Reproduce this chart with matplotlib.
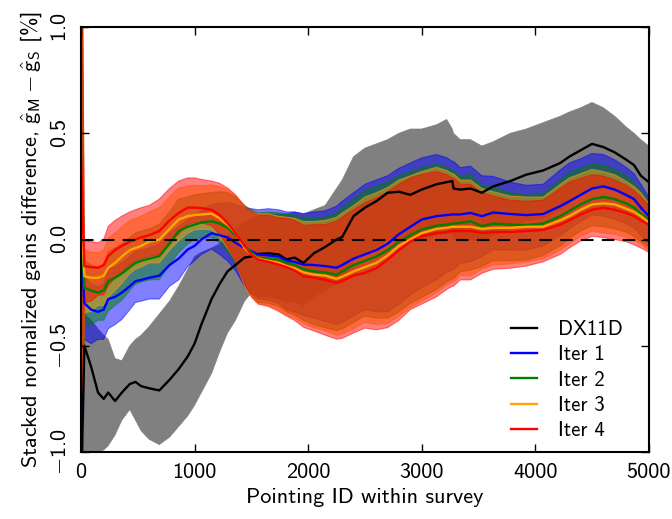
import matplotlib
matplotlib.use("Agg")
import matplotlib.pyplot as plt
import numpy as np

plt.rcParams["font.family"] = ["cmss10", "DejaVu Sans"]
plt.rcParams["mathtext.fontset"] = "custom"
plt.rcParams["mathtext.rm"] = "cmss10"
plt.rcParams["mathtext.sf"] = "cmss10"
plt.rcParams["mathtext.it"] = "cmss10"
plt.rcParams["axes.unicode_minus"] = False

# pointing IDs where the curves were sampled
pid = [0, 30, 90, 150, 200, 240, 300, 360, 430, 480, 530, 600, 690, 780, 860, 940,
       1000, 1060, 1150, 1220, 1290, 1360, 1440, 1500, 1560, 1650, 1740, 1810, 1880,
       1960, 2050, 2150, 2250, 2300, 2400, 2500, 2600, 2700, 2800, 2900, 3000, 3130,
       3220, 3270, 3280, 3340, 3430, 3530, 3630, 3780, 3920, 4070, 4220, 4300, 4400,
       4500, 4600, 4700, 4800, 4870, 4930, 5000]

# DX11D mean and its band
dx = [-1.2, -0.50, -0.60, -0.72, -0.75, -0.72, -0.76, -0.72, -0.68, -0.67, -0.69, -0.70,
      -0.71, -0.66, -0.61, -0.55, -0.49, -0.40, -0.28, -0.21, -0.15, -0.12, -0.085, -0.08,
      -0.068, -0.065, -0.07, -0.094, -0.085, -0.11, -0.065, -0.035, 0.0, 0.012, 0.11, 0.15,
      0.18, 0.22, 0.225, 0.21, 0.235, 0.26, 0.27, 0.275, 0.24, 0.235, 0.24, 0.22, 0.25,
      0.275, 0.305, 0.325, 0.36, 0.39, 0.42, 0.45, 0.435, 0.41, 0.376, 0.35, 0.30, 0.27]
dx_hi = [0.8, -0.35, -0.38, -0.42, -0.45, -0.47, -0.56, -0.57, -0.50, -0.47, -0.45, -0.41,
         -0.35, -0.29, -0.22, -0.14, -0.08, -0.06, -0.04, -0.02, 0.02, 0.05, 0.08, 0.10,
         0.11, 0.12, 0.12, 0.12, 0.13, 0.12, 0.14, 0.16, 0.24, 0.28, 0.39, 0.43, 0.45, 0.47,
         0.50, 0.52, 0.52, 0.54, 0.565, 0.52, 0.50, 0.47, 0.47, 0.44, 0.46, 0.50, 0.52,
         0.55, 0.58, 0.60, 0.62, 0.645, 0.62, 0.58, 0.53, 0.50, 0.47, 0.44]
dx_lo = [-2.0, -1.0, -1.02, -1.0, -0.99, -0.97, -0.92, -0.85, -0.80, -0.85, -0.90, -0.94,
         -0.965, -0.93, -0.88, -0.83, -0.78, -0.72, -0.63, -0.53, -0.44, -0.38, -0.29, -0.25,
         -0.27, -0.27, -0.28, -0.30, -0.29, -0.31, -0.27, -0.24, -0.21, -0.20, -0.10, -0.07,
         -0.04, 0.0, 0.0, -0.01, 0.0, 0.02, 0.03, 0.03, 0.0, 0.0, 0.0, -0.01, 0.02, 0.05,
         0.09, 0.10, 0.14, 0.17, 0.22, 0.25, 0.25, 0.23, 0.20, 0.18, 0.14, 0.10]

# iteration means
it1 = [0.0, -0.30, -0.33, -0.34, -0.33, -0.28, -0.27, -0.25, -0.22, -0.196, -0.19, -0.18,
       -0.17, -0.12, -0.09, -0.047, -0.03, 0.0, 0.03, 0.02, 0.01, -0.015, -0.04, -0.055,
       -0.07, -0.075, -0.08, -0.10, -0.105, -0.118, -0.12, -0.125, -0.133, -0.12, -0.09,
       -0.07, -0.05, -0.02, 0.025, 0.06, 0.094, 0.11, 0.115, 0.118, 0.118, 0.118, 0.125,
       0.11, 0.127, 0.12, 0.115, 0.12, 0.157, 0.18, 0.21, 0.24, 0.25, 0.235, 0.21, 0.19,
       0.15, 0.11]
it2 = [0.07, -0.227, -0.24, -0.25, -0.24, -0.196, -0.18, -0.16, -0.13, -0.11, -0.10, -0.09,
       -0.078, -0.02, 0.04, 0.06, 0.07, 0.08, 0.086, 0.075, 0.056, 0.02, -0.03, -0.06,
       -0.085, -0.09, -0.094, -0.11, -0.12, -0.14, -0.15, -0.155, -0.165, -0.15, -0.12,
       -0.10, -0.08, -0.05, -0.01, 0.02, 0.047, 0.065, 0.07, 0.075, 0.075, 0.078, 0.086,
       0.063, 0.075, 0.07, 0.068, 0.075, 0.11, 0.135, 0.165, 0.19, 0.20, 0.19, 0.17, 0.15,
       0.12, 0.095]
it3 = [0.12, -0.173, -0.18, -0.18, -0.17, -0.133, -0.11, -0.08, -0.05, -0.04, -0.03, -0.01,
       0.0, 0.05, 0.094, 0.11, 0.115, 0.118, 0.122, 0.10, 0.07, 0.03, -0.04, -0.07, -0.09,
       -0.10, -0.11, -0.125, -0.135, -0.155, -0.165, -0.17, -0.185, -0.175, -0.15, -0.13,
       -0.11, -0.075, -0.03, 0.0, 0.03, 0.05, 0.055, 0.06, 0.06, 0.06, 0.06, 0.05, 0.055,
       0.055, 0.06, 0.06, 0.09, 0.11, 0.14, 0.165, 0.17, 0.165, 0.145, 0.13, 0.11, 0.08]
it4 = [0.38, -0.125, -0.13, -0.133, -0.12, -0.078, -0.05, -0.03, -0.01, 0.0, 0.01, 0.02,
       0.04, 0.09, 0.125, 0.15, 0.15, 0.148, 0.14, 0.115, 0.078, 0.03, -0.03, -0.07, -0.094,
       -0.105, -0.118, -0.13, -0.145, -0.173, -0.18, -0.19, -0.204, -0.195, -0.17, -0.157,
       -0.135, -0.095, -0.05, -0.01, 0.016, 0.03, 0.035, 0.04, 0.04, 0.04, 0.04, 0.031,
       0.035, 0.035, 0.04, 0.045, 0.07, 0.09, 0.118, 0.14, 0.149, 0.14, 0.125, 0.11, 0.09,
       0.07]

# spread of the iteration bands above / below their mean
hw_up = [2.0, 0.125, 0.12, 0.118, 0.12, 0.14, 0.14, 0.14, 0.14, 0.14, 0.14, 0.14, 0.15,
         0.15, 0.15, 0.14, 0.14, 0.135, 0.135, 0.15, 0.165, 0.18, 0.19, 0.20, 0.21, 0.22,
         0.22, 0.23, 0.235, 0.24, 0.25, 0.26, 0.29, 0.30, 0.31, 0.33, 0.33, 0.32, 0.31,
         0.30, 0.29, 0.29, 0.27, 0.25, 0.25, 0.22, 0.22, 0.19, 0.17, 0.15, 0.14, 0.14, 0.17,
         0.18, 0.17, 0.165, 0.15, 0.14, 0.13, 0.12, 0.11, 0.09]
hw_lo = [2.0, 0.17, 0.16, 0.13, 0.14, 0.14, 0.13, 0.126, 0.11, 0.10, 0.10, 0.10, 0.11,
         0.10, 0.10, 0.08, 0.07, 0.07, 0.075, 0.09, 0.11, 0.13, 0.18, 0.20, 0.21, 0.21,
         0.22, 0.23, 0.235, 0.24, 0.25, 0.26, 0.265, 0.27, 0.27, 0.26, 0.29, 0.32, 0.33,
         0.32, 0.32, 0.30, 0.27, 0.26, 0.26, 0.23, 0.23, 0.19, 0.175, 0.17, 0.165, 0.15,
         0.14, 0.13, 0.125, 0.125, 0.14, 0.14, 0.135, 0.135, 0.13, 0.13]

labels = ["DX11D", "Iter 1", "Iter 2", "Iter 3", "Iter 4"]
colors = ["k", "b", "g", "orange", "r"]

x = np.array(pid)
up = np.array(hw_up)
lo = np.array(hw_lo)

fig = plt.figure(figsize=(6.72, 5.19), dpi=100)
ax = fig.add_axes([0.1205, 0.129, 0.845, 0.819])

ax.fill_between(x, dx_lo, dx_hi, color="gray", lw=0.5)
for m, c in zip([it1, it2, it3, it4], colors[1:]):
    m = np.array(m)
    ax.fill_between(x, m - lo, m + up, color=c, alpha=0.5, lw=0.8)

for m, c, lab in zip([dx, it1, it2, it3, it4], colors, labels):
    ax.plot(x, m, color=c, lw=1.7, label=lab)

ax.axhline(0, color="k", ls="--", lw=1.5, dashes=(6, 4))

ax.set_xlim(0, 5000)
ax.set_ylim(-1, 1)
ax.set_xticks([0, 1000, 2000, 3000, 4000, 5000])
ax.set_yticks([-1.0, -0.5, 0.0, 0.5, 1.0])
ax.set_yticklabels([r"$-1.0$", r"$-0.5$", r"$0.0$", r"$0.5$", r"$1.0$"],
                   rotation=90, va="center")
ax.tick_params(direction="in", length=6, width=1, top=True, right=True,
               labelsize=16, pad=8)
for s in ax.spines.values():
    s.set_linewidth(1.5)

ax.set_xlabel("Pointing ID within survey", fontsize=16, labelpad=4)
ax.set_ylabel(r"Stacked normalized gains difference, $\hat{g}_{\rm M}-\hat{g}_{\rm S}$ [%]",
              fontsize=16, labelpad=4)

ax.legend(loc="lower right", bbox_to_anchor=(0.975, 0.0), frameon=False, fontsize=15,
          handlelength=1.25, handletextpad=1.0, labelspacing=0.3, borderaxespad=0.17)

fig.savefig("out.png", dpi=100)
